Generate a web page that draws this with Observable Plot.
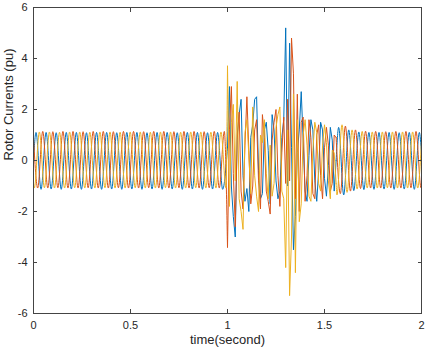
<!DOCTYPE html>
<html><head><meta charset="utf-8">
<script src="https://cdn.jsdelivr.net/npm/d3@7"></script>
<script src="https://cdn.jsdelivr.net/npm/@observablehq/plot@0.6"></script>
<style>body{margin:0;background:#fff;}</style>
</head><body><div id="chart"></div>
<script>
// axis ticks
const xTicks = [0, 0.5, 1, 1.5, 2];
const yTicks = [-6, -4, -2, 0, 2, 4, 6];
const xLabel = "time(second)";
const yLabel = "Rotor Currents (pu)";

// three phases (drawing order: blue, orange, yellow)
const seriesNames = ["ia", "ib", "ic"];
const seriesColors = ["#0072BD", "#D95319", "#EDB120"];

// steady state: successive extrema (peak / trough), half a period apart
const halfPeriod = 0.026;
const valueAtZero = [0.0, 0.9, -0.9];
const preFirstExtremum = [0.013, 0.0217, 0.0043];
const preBlue = [1.1,-1.13, 1.1,-1.12, 1.09,-1.13, 1.1,-1.12, 1.1,-1.13, 1.09,-1.12, 1.1,-1.13, 1.1,-1.12,
  1.09,-1.13, 1.1,-1.12, 1.1,-1.13, 1.09,-1.12, 1.1,-1.13, 1.1,-1.12, 1.09,-1.13, 1.1,-1.12, 1.1,-1.13, 1.09,-1.12, 1.1,-1.13];
const preOrange = [-1.08,1.14, -1.08,1.13, -1.07,1.14, -1.08,1.14, -1.08,1.13, -1.07,1.14, -1.08,1.14, -1.08,1.13,
  -1.07,1.14, -1.08,1.14, -1.08,1.13, -1.07,1.14, -1.08,1.14, -1.08,1.13, -1.07,1.14, -1.08,1.14, -1.08,1.13, -1.07,1.14, -1.08,1.14];
const preYellow = [-1.08,1.12, -1.07,1.12, -1.08,1.11, -1.08,1.12, -1.07,1.12, -1.08,1.11, -1.08,1.12, -1.07,1.12,
  -1.08,1.11, -1.08,1.12, -1.07,1.12, -1.08,1.11, -1.08,1.12, -1.07,1.12, -1.08,1.11, -1.08,1.12, -1.07,1.12, -1.08,1.11, -1.08,1.12, -1.08];

// disturbance, sampled every 0.01 s from t = 1.00 to 1.56
const faultStart = 1.0;
const faultStep = 0.01;
const faultBlue = [
  0.5, 2.9, -1.0, -2.2, -3.0, 1.0, 1.8, 2.4, -0.6, -1.6,
  -1.1, -2.0, 0.9, 1.4, 2.4, 2.5, -0.4, -1.5, -1.3, 1.2,
  1.5, 0.4, -1.7, 1.8, 1.2, -0.8, -1.5, -1.2, 0.9, 1.6,
  5.2, -1.0, 4.6, 0.5, -3.5, -2.2, 0.3, 1.2, 2.7, 0.8,
  -1.2, -1.6, 0.2, 1.6, 1.2, -0.8, -1.6, -0.4, 1.5, 1.2,
  -0.7, -1.4, -0.2, 1.3, 0.8, -1.2, 0.0];
const faultOrange = [
  -3.4, 1.2, 2.9, -0.5, -2.6, 0.8, 1.9, -1.2, -1.9, 0.6,
  2.5, 0.4, -1.7, -1.0, 1.2, 1.6, -0.8, -1.9, 1.8, 0.9,
  -1.2, -1.6, -2.1, 0.8, 1.5, 2.0, -0.6, -1.8, 0.3, 1.7,
  -0.9, 2.4, -0.8, 4.8, 3.4, -1.5, 2.6, -2.0, 1.5, 1.7,
  -1.6, -0.6, 1.6, 0.9, -1.3, -1.5, 1.0, 1.4, -0.6, -1.5,
  0.5, 1.3, 0.6, -1.2, -0.9, 1.0, 0.9];
const faultYellow = [
  3.7, -1.8, 1.5, 2.2, -0.8, 3.1, -1.5, -2.0, -2.7, 1.1,
  1.6, 0.2, -1.3, 2.1, -0.6, -1.4, -2.0, 1.0, 0.7, 1.6,
  -0.5, -1.5, 0.6, -1.4, -0.9, 1.3, 1.8, 2.1, -1.2, -1.5,
  -4.2, 1.2, -5.3, -3.0, 2.6, -4.4, 1.6, -2.4, -1.7, 1.0,
  1.6, 0.6, -1.4, -1.6, 0.4, 1.5, 1.1, -0.9, -1.2, 0.6,
  1.4, 0.7, -0.8, -1.5, 0.4, 0.3, -0.9];

// recovery: successive extrema after the disturbance
const postFirstExtremum = [1.573, 1.5817, 1.5643];
const postBlue = [1.3,-1.35, 1.2,-1.18, 1.12,-1.14, 1.1,-1.13, 1.1,-1.12, 1.1,-1.13, 1.09,-1.12, 1.1,-1.13, 1.1];
const postOrange = [-1.3,1.35, -1.2,1.2, -1.1,1.15, -1.08,1.14, -1.08,1.13, -1.08,1.14, -1.08,1.14, -1.07,1.14, -1.08];
const postYellow = [-1.35,1.4, -1.25,1.2, -1.12,1.14, -1.08,1.12, -1.08,1.12, -1.07,1.12, -1.08,1.12, -1.08,1.12, -1.08];
const valueAtEnd = [0.25, -1.07, 0.75];

const preVals = [preBlue, preOrange, preYellow];
const faultVals = [faultBlue, faultOrange, faultYellow];
const postVals = [postBlue, postOrange, postYellow];

const preRows = [], faultRows = [], postRows = [];
seriesNames.forEach((s, i) => {
  const fault = faultVals[i].map((v, j) => ({s, t: faultStart + j * faultStep, v}));
  preRows.push({s, t: 0, v: valueAtZero[i]});
  preVals[i].forEach((v, j) => preRows.push({s, t: preFirstExtremum[i] + j * halfPeriod, v}));
  preRows.push(fault[0]);
  faultRows.push(...fault);
  postRows.push(fault[fault.length - 1]);
  postVals[i].forEach((v, j) => postRows.push({s, t: postFirstExtremum[i] + j * halfPeriod, v}));
  postRows.push({s, t: 2, v: valueAtEnd[i]});
});

const fmt = d => String(d);
const chart = Plot.plot({
  width: 428, height: 350,
  marginLeft: 33, marginRight: 7, marginTop: 7, marginBottom: 37,
  x: {domain: [0, 2]},
  y: {domain: [-6, 6]},
  color: {domain: seriesNames, range: seriesColors},
  style: {fontFamily: "'Liberation Sans', Arial, sans-serif", fontSize: "11px", color: "#262626", background: "#fff"},
  marks: [
    Plot.line(preRows, {x: "t", y: "v", z: "s", stroke: "s", strokeWidth: 1, curve: "monotone-x"}),
    Plot.line(faultRows, {x: "t", y: "v", z: "s", stroke: "s", strokeWidth: 1}),
    Plot.line(postRows, {x: "t", y: "v", z: "s", stroke: "s", strokeWidth: 1, curve: "monotone-x"}),
    Plot.frame({stroke: "#444"}),
    Plot.axisX({ticks: xTicks, tickSize: -4, tickPadding: 12, tickFormat: fmt, label: null, stroke: "#444"}),
    Plot.axisX({anchor: "top", ticks: xTicks, tickSize: -4, tickFormat: () => "", label: null, stroke: "#444"}),
    Plot.axisY({ticks: yTicks, tickSize: -4, tickPadding: 10, tickFormat: fmt, label: null, stroke: "#444"}),
    Plot.axisY({anchor: "right", ticks: yTicks, tickSize: -4, tickFormat: () => "", label: null, stroke: "#444"}),
    Plot.text([xLabel], {frameAnchor: "bottom", dy: 30, fontSize: 13, fill: "#262626"}),
    Plot.text([yLabel], {frameAnchor: "left", dx: -25, rotate: -90, fontSize: 13, fill: "#262626"})
  ]
});
document.getElementById("chart").appendChild(chart);
</script>
</body></html>
